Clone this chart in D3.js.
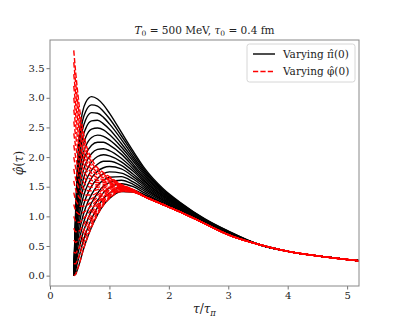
<!DOCTYPE html>
<html>
<head>
<meta charset="utf-8">
<script src="https://cdn.jsdelivr.net/npm/d3@7/dist/d3.min.js"></script>
<style>
  body { margin: 0; background: #fff; }
  text { font-family: "DejaVu Serif", serif; fill: #222; }
</style>
</head>
<body>
<svg id="chart" width="399" height="328"></svg>
<script>
var xsBlack = [0.4, 0.43, 0.46, 0.5, 0.55, 0.6, 0.7, 0.8, 0.9, 1.0, 1.2, 1.4, 1.6, 1.9, 2.2, 2.6, 3.0];

// black family (varying pi(0)), one array per x sample, lowest curve first
var blackCols = [
  [0, 0, 0, 0, 0, 0, 0, 0, 0, 0, 0, 0, 0, 0, 0, 0, 0],
  [0.02, 0.08, 0.15, 0.21, 0.28, 0.34, 0.41, 0.47, 0.54, 0.60, 0.67, 0.73, 0.79, 0.86, 0.92, 0.99, 1.05],
  [0.10, 0.21, 0.32, 0.43, 0.54, 0.65, 0.76, 0.87, 0.98, 1.08, 1.19, 1.30, 1.41, 1.52, 1.63, 1.74, 1.85],
  [0.22, 0.36, 0.50, 0.64, 0.78, 0.92, 1.06, 1.19, 1.33, 1.47, 1.61, 1.75, 1.89, 2.03, 2.17, 2.31, 2.45],
  [0.40, 0.55, 0.70, 0.84, 0.99, 1.14, 1.29, 1.44, 1.59, 1.73, 1.88, 2.03, 2.18, 2.33, 2.47, 2.62, 2.77],
  [0.56, 0.71, 0.85, 1.00, 1.15, 1.30, 1.45, 1.59, 1.74, 1.89, 2.04, 2.18, 2.33, 2.48, 2.63, 2.77, 2.92],
  [0.82, 0.96, 1.10, 1.23, 1.37, 1.51, 1.65, 1.78, 1.92, 2.06, 2.20, 2.33, 2.47, 2.61, 2.75, 2.88, 3.02],
  [1.03, 1.15, 1.27, 1.39, 1.52, 1.64, 1.76, 1.88, 2.01, 2.13, 2.25, 2.37, 2.49, 2.62, 2.74, 2.86, 2.98],
  [1.19, 1.30, 1.40, 1.51, 1.61, 1.72, 1.82, 1.93, 2.04, 2.14, 2.25, 2.35, 2.46, 2.56, 2.67, 2.77, 2.88],
  [1.30, 1.39, 1.48, 1.57, 1.66, 1.75, 1.84, 1.93, 2.02, 2.11, 2.20, 2.29, 2.38, 2.47, 2.56, 2.65, 2.74],
  [1.42, 1.48, 1.55, 1.61, 1.67, 1.73, 1.80, 1.86, 1.92, 1.98, 2.05, 2.11, 2.17, 2.23, 2.30, 2.36, 2.42],
  [1.41, 1.45, 1.50, 1.54, 1.58, 1.63, 1.67, 1.71, 1.76, 1.80, 1.84, 1.88, 1.93, 1.97, 2.01, 2.06, 2.10],
  [1.33, 1.36, 1.39, 1.42, 1.45, 1.48, 1.51, 1.54, 1.57, 1.59, 1.62, 1.65, 1.68, 1.71, 1.74, 1.77, 1.80],
  [1.20, 1.22, 1.23, 1.25, 1.27, 1.28, 1.30, 1.32, 1.34, 1.35, 1.37, 1.39, 1.40, 1.42, 1.44, 1.45, 1.47],
  [1.07, 1.08, 1.09, 1.10, 1.11, 1.12, 1.13, 1.14, 1.15, 1.16, 1.17, 1.18, 1.19, 1.20, 1.21, 1.22, 1.23],
  [0.88, 0.885, 0.89, 0.895, 0.90, 0.905, 0.91, 0.915, 0.92, 0.925, 0.93, 0.935, 0.94, 0.945, 0.95, 0.955, 0.96],
  [0.69, 0.69, 0.70, 0.70, 0.71, 0.71, 0.71, 0.72, 0.72, 0.72, 0.73, 0.73, 0.73, 0.74, 0.74, 0.75, 0.75]
];

// all curves share the same late-time tail
var tailX = [3.5, 4.0, 4.6, 5.2];
var tailY = [0.53, 0.41, 0.32, 0.25];

// red family (varying phi(0)), phi(0) = 0 ... 3.8
var xsRed = [0.4, 0.43, 0.46, 0.5, 0.55, 0.6, 0.7, 0.8, 0.9, 1.0, 1.2, 1.4];
var redCols = [
  [0, 0.2, 0.4, 0.6, 0.8, 1.0, 1.2, 1.4, 1.6, 1.8, 2.0, 2.2, 2.4, 2.6, 2.8, 3.0, 3.2, 3.4, 3.6, 3.8],
  [0.02, 0.20, 0.38, 0.56, 0.74, 0.92, 1.10, 1.28, 1.46, 1.64, 1.83, 2.01, 2.19, 2.37, 2.55, 2.73, 2.91, 3.09, 3.27, 3.45],
  [0.10, 0.26, 0.42, 0.58, 0.74, 0.90, 1.06, 1.22, 1.38, 1.54, 1.71, 1.87, 2.03, 2.19, 2.35, 2.51, 2.67, 2.83, 2.99, 3.15],
  [0.22, 0.36, 0.49, 0.63, 0.76, 0.90, 1.03, 1.17, 1.31, 1.44, 1.58, 1.71, 1.85, 1.99, 2.12, 2.26, 2.39, 2.53, 2.66, 2.80],
  [0.40, 0.51, 0.62, 0.73, 0.84, 0.95, 1.06, 1.17, 1.28, 1.39, 1.49, 1.60, 1.71, 1.82, 1.93, 2.04, 2.15, 2.26, 2.37, 2.48],
  [0.56, 0.65, 0.74, 0.83, 0.91, 1.00, 1.09, 1.18, 1.27, 1.36, 1.44, 1.53, 1.62, 1.71, 1.80, 1.89, 1.97, 2.06, 2.15, 2.24],
  [0.82, 0.88, 0.94, 1.00, 1.06, 1.12, 1.18, 1.24, 1.30, 1.36, 1.43, 1.49, 1.55, 1.61, 1.67, 1.73, 1.79, 1.85, 1.91, 1.97],
  [1.03, 1.07, 1.11, 1.15, 1.20, 1.24, 1.28, 1.32, 1.36, 1.40, 1.45, 1.49, 1.53, 1.57, 1.61, 1.65, 1.70, 1.74, 1.78, 1.82],
  [1.19, 1.22, 1.25, 1.28, 1.31, 1.33, 1.36, 1.39, 1.42, 1.45, 1.48, 1.51, 1.54, 1.57, 1.60, 1.62, 1.65, 1.68, 1.71, 1.74],
  [1.30, 1.32, 1.34, 1.36, 1.38, 1.40, 1.42, 1.44, 1.46, 1.48, 1.49, 1.51, 1.53, 1.55, 1.57, 1.59, 1.61, 1.63, 1.65, 1.67],
  [1.42, 1.43, 1.43, 1.44, 1.45, 1.45, 1.46, 1.46, 1.47, 1.48, 1.48, 1.49, 1.50, 1.50, 1.51, 1.51, 1.52, 1.53, 1.53, 1.54],
  [1.41, 1.41, 1.41, 1.42, 1.42, 1.42, 1.42, 1.42, 1.43, 1.43, 1.43, 1.43, 1.44, 1.44, 1.44, 1.44, 1.44, 1.45, 1.45, 1.45]
];

var xTicks = [0, 1, 2, 3, 4, 5];
var yTicks = [0, 0.5, 1.0, 1.5, 2.0, 2.5, 3.0, 3.5];
var legendLabels = ['Varying \u03C0\u0302(0)', 'Varying \u03C6\u0302(0)'];

var margin = { top: 40, right: 40, bottom: 42, left: 50 };
var width = 399 - margin.left - margin.right;
var height = 328 - margin.top - margin.bottom;

var svg = d3.select('#chart');
var g = svg.append('g')
  .attr('transform', 'translate(' + margin.left + ',' + margin.top + ')');

var x = d3.scaleLinear().domain([0, 5.2]).range([0, width]);
var y = d3.scaleLinear().domain([-0.175, 3.975]).range([height, 0]);

g.append('clipPath').attr('id', 'clip')
  .append('rect').attr('width', width).attr('height', height);

var line = d3.line()
  .x(function (d) { return x(d[0]); })
  .y(function (d) { return y(d[1]); })
  .curve(d3.curveMonotoneX);

// rebuild curves from the column tables
var blackCurves = d3.range(blackCols[0].length).map(function (k) {
  var pts = xsBlack.map(function (xv, i) { return [xv, blackCols[i][k]]; });
  return pts.concat(tailX.map(function (xv, i) { return [xv, tailY[i]]; }));
});
var lowTail = xsBlack.slice(xsRed.length).map(function (xv, i) {
  return [xv, blackCols[xsRed.length + i][0]];
}).concat(tailX.map(function (xv, i) { return [xv, tailY[i]]; }));
var redCurves = d3.range(redCols[0].length).map(function (k) {
  var pts = xsRed.map(function (xv, i) { return [xv, redCols[i][k]]; });
  return pts.concat(lowTail);
});

var plot = g.append('g').attr('clip-path', 'url(#clip)');
plot.selectAll('.black')
  .data(blackCurves)
  .enter().append('path')
  .attr('class', 'black')
  .attr('fill', 'none')
  .attr('stroke', 'black')
  .attr('stroke-width', 1.4)
  .attr('d', line);
plot.selectAll('.red')
  .data(redCurves)
  .enter().append('path')
  .attr('class', 'red')
  .attr('fill', 'none')
  .attr('stroke', 'red')
  .attr('stroke-width', 1.4)
  .attr('stroke-dasharray', '5.2,2.2')
  .attr('d', line);

// axes
var xAxis = g.append('g')
  .attr('transform', 'translate(0,' + height + ')')
  .call(d3.axisBottom(x).tickValues(xTicks).tickSize(3.5).tickPadding(2).tickFormat(d3.format('d')));
var yAxis = g.append('g')
  .call(d3.axisLeft(y).tickValues(yTicks).tickSize(3.5).tickPadding(2).tickFormat(d3.format('.1f')));
[xAxis, yAxis].forEach(function (ax) {
  ax.select('.domain').remove();
  ax.selectAll('line').attr('stroke', '#777');
  ax.selectAll('text').style('font-size', '10px').style('font-family', 'DejaVu Serif').attr('fill', '#222');
});

g.append('rect')
  .attr('width', width).attr('height', height)
  .attr('fill', 'none').attr('stroke', '#888').attr('stroke-width', 1);

// title
var title = g.append('text')
  .attr('x', width / 2).attr('y', -6)
  .attr('text-anchor', 'middle')
  .style('font-size', '10.5px');
title.append('tspan').style('font-style', 'italic').text('T');
title.append('tspan').attr('dy', 2).style('font-size', '7.5px').text('0');
title.append('tspan').attr('dy', -2).text(' = 500 MeV, ');
title.append('tspan').style('font-style', 'italic').text('\u03C4');
title.append('tspan').attr('dy', 2).style('font-size', '7.5px').text('0');
title.append('tspan').attr('dy', -2).text(' = 0.4 fm');

// axis labels
var xl = g.append('text')
  .attr('x', width / 2).attr('y', height + 27)
  .attr('text-anchor', 'middle')
  .style('font-size', '12px');
xl.append('tspan').style('font-style', 'italic').text('\u03C4');
xl.append('tspan').text('/');
xl.append('tspan').style('font-style', 'italic').text('\u03C4');
xl.append('tspan').attr('dy', 3).style('font-size', '8.5px').style('font-style', 'italic').text('\u03C0');

var yl = g.append('text')
  .attr('transform', 'translate(-27,' + (height / 2) + ') rotate(-90)')
  .attr('text-anchor', 'middle')
  .style('font-size', '12px');
yl.append('tspan').style('font-style', 'italic').text('\u03C6\u0302');
yl.append('tspan').text('(');
yl.append('tspan').style('font-style', 'italic').text('\u03C4');
yl.append('tspan').text(')');

// legend
var legend = g.append('g').attr('transform', 'translate(' + (width - 112) + ',4)');
legend.append('rect')
  .attr('width', 108).attr('height', 38).attr('rx', 2.5)
  .attr('fill', 'white').attr('fill-opacity', 0.8)
  .attr('stroke', '#ccc').attr('stroke-width', 0.8);
var items = legend.selectAll('.item')
  .data(legendLabels)
  .enter().append('g')
  .attr('transform', function (d, i) { return 'translate(6,' + (10 + i * 17.5) + ')'; });
items.append('line')
  .attr('x1', 0).attr('x2', 22)
  .attr('stroke', function (d, i) { return i === 0 ? 'black' : 'red'; })
  .attr('stroke-width', 1.4)
  .attr('stroke-dasharray', function (d, i) { return i === 0 ? null : '5.2,2.2'; });
items.append('text')
  .attr('x', 30).attr('y', 3.8)
  .style('font-size', '10.5px')
  .text(function (d) { return d; });
</script>
</body>
</html>
